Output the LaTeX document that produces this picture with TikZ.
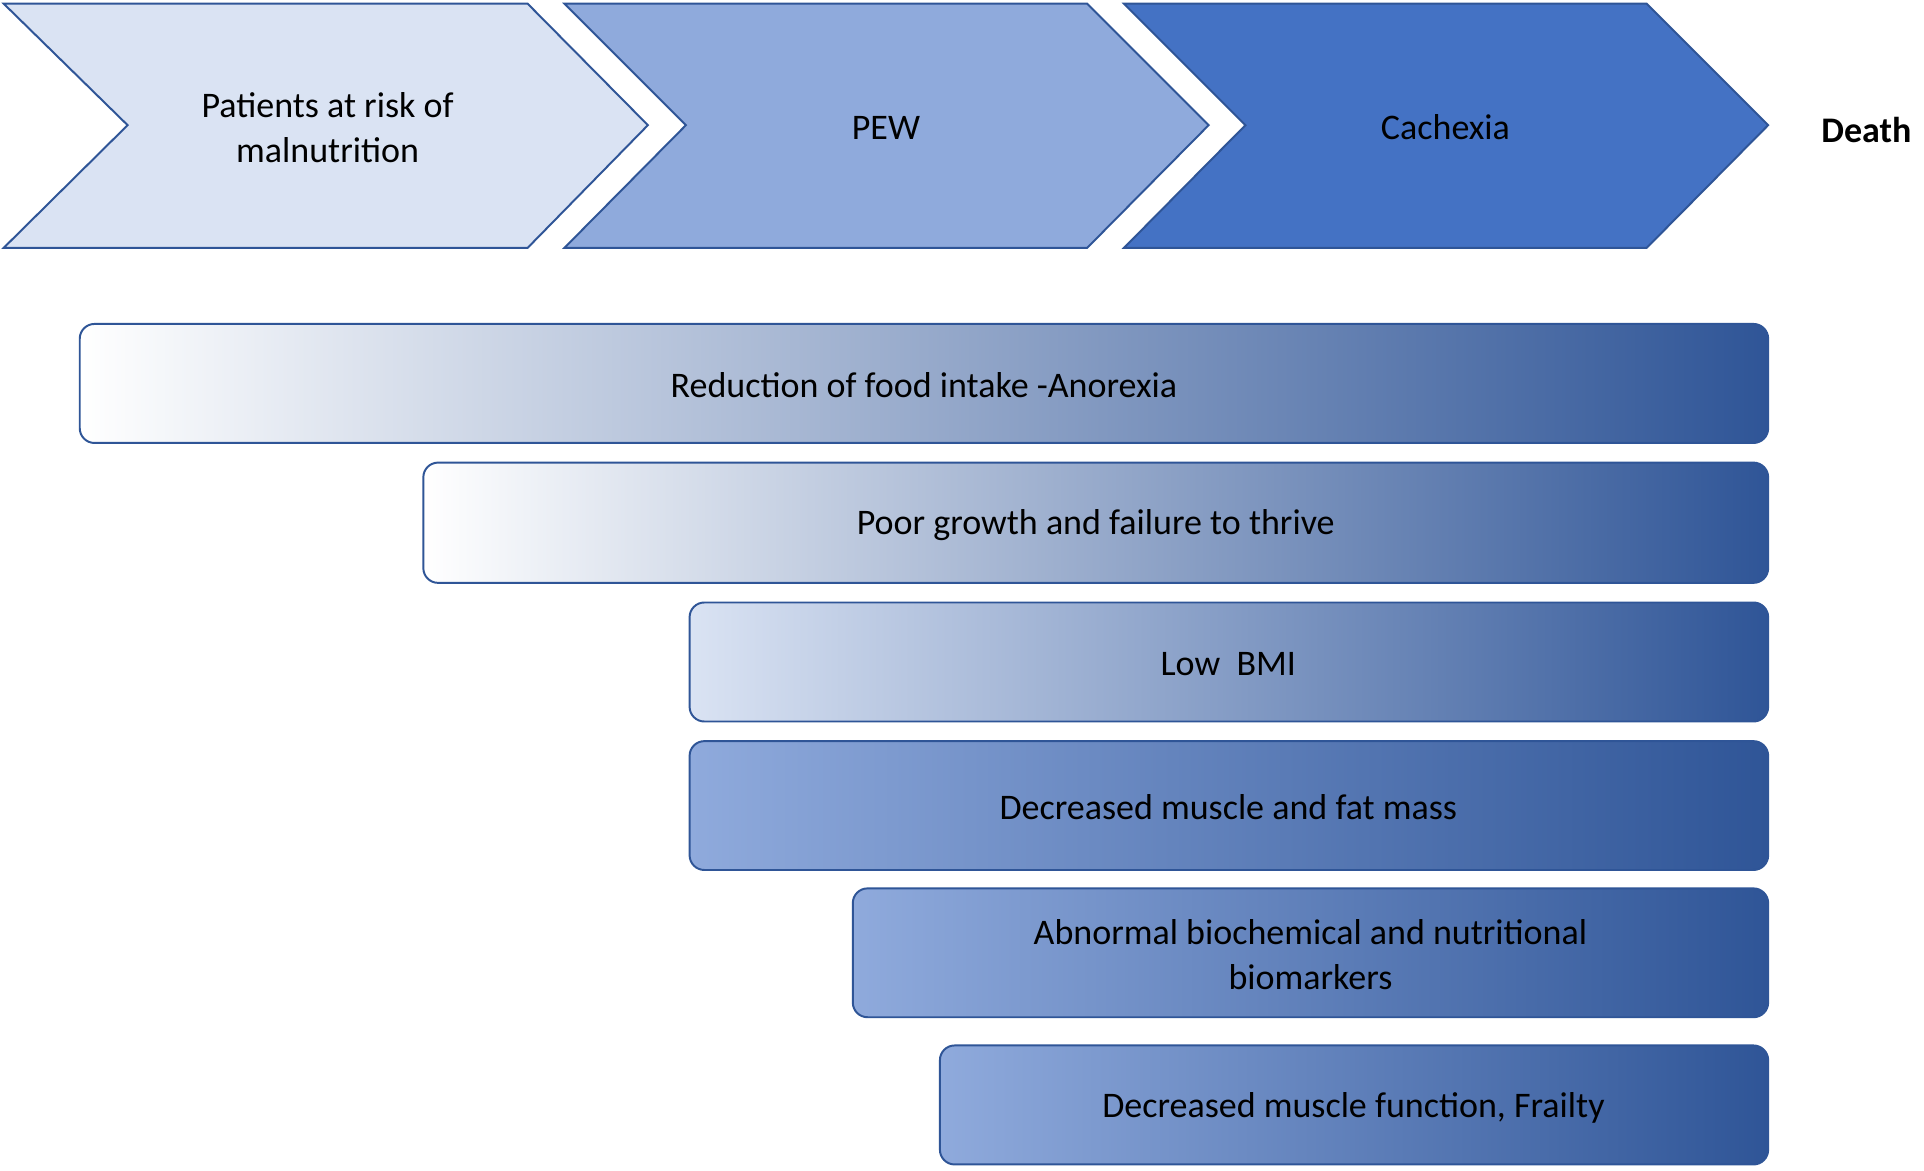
\documentclass[tikz,border=0pt]{standalone}
\usepackage{fontspec}
\setmainfont{Carlito}
\definecolor{bord}{RGB}{47,85,151}
\definecolor{cA}{RGB}{218,227,243}
\definecolor{cB}{RGB}{143,170,220}
\definecolor{cC}{RGB}{68,114,196}
\begin{document}
\begin{tikzpicture}[x=0.75pt,y=-0.75pt,
  chev/.style={draw=bord,line width=1.2pt},
  bar/.style={draw=bord,line width=1.2pt,rounded corners=9pt,right color=bord},
  lbl/.style={font=\fontsize{22}{27}\selectfont,align=center}]
\useasboundingbox (0,0) rectangle (1568,954);
\fill[white] (0,0) rectangle (1568,954);
\draw[chev,fill=cA] (3,3)--(430,3)--(528,102)--(430,202)--(3,202)--(104,102)--cycle;
\draw[chev,fill=cB] (460,3)--(886,3)--(985,102)--(886,202)--(460,202)--(559,102)--cycle;
\draw[chev,fill=cC] (916,3)--(1342,3)--(1441,102)--(1342,202)--(916,202)--(1015,102)--cycle;
\node[lbl] (n1) at (267,104) {Patients at risk of\\malnutrition};
\node[lbl] (n2) at (722,104) {PEW};
\node[lbl] (n3) at (1178,104) {Cachexia};
\node[lbl,font=\fontsize{22}{27}\selectfont\bfseries] (n4) at (1521,106) {Death};
\shade[bar,left color=white] (65,264) rectangle (1441,361);
\node[lbl] (b1) at (753,314) {Reduction of food intake -Anorexia};
\shade[bar,left color=white] (345,377) rectangle (1441,475);
\node[lbl] (b2) at (893,428) {Poor growth and failure to thrive};
\shade[bar,left color=cA] (562,491) rectangle (1441,588);
\node[lbl] (b3) at (1001,541) {Low\ \ BMI};
\shade[bar,left color=cB] (562,604) rectangle (1441,709);
\node[lbl] (b4) at (1001,658) {Decreased muscle and fat mass};
\shade[bar,left color=cB] (695,724) rectangle (1441,829);
\node[lbl] (b5) at (1068,778) {Abnormal biochemical and nutritional\\biomarkers};
\shade[bar,left color=cB] (766,852) rectangle (1441,949);
\node[lbl] (b6) at (1103,903) {Decreased muscle function, Frailty};
\end{tikzpicture}
\end{document}
